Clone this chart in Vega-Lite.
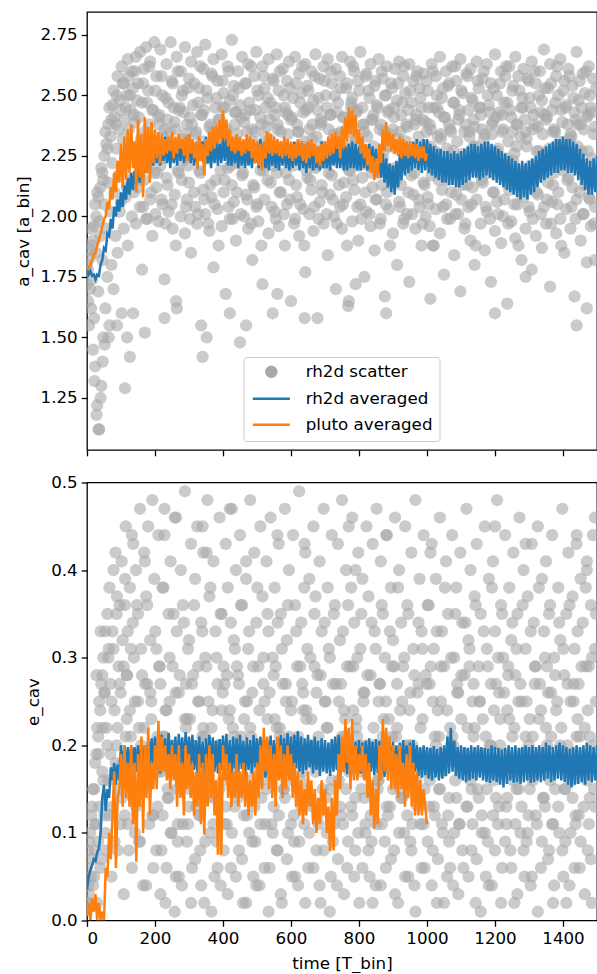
{
"$schema":"https://vega.github.io/schema/vega-lite/v6.json",
"autosize":{"type":"pad"},
"padding":{"left":14,"top":11,"right":0,"bottom":0},
"background":"white",
"bounds":"flush",
"spacing":32.5,
"config":{
 "font":"DejaVu Sans",
 "view":{"stroke":"black","strokeWidth":1.3},
 "axis":{"domain":false,"grid":false,"tickColor":"black","tickWidth":1.3,"tickSize":5.8,"labelFontSize":16.7,"labelColor":"black","labelPadding":4,"titleFontSize":16.7,"titleFontWeight":"normal","titleColor":"black","titlePadding":8,"labelFont":"DejaVu Sans","titleFont":"DejaVu Sans"}
},
"datasets":{
"sc":[
{"t":0,"a":1.80,"e":0.02},{"t":0,"a":1.72,"e":0.06},
{"t":6,"a":1.86,"e":0.09},{"t":6,"a":1.55,"e":0.03},
{"t":12,"a":1.95,"e":0.12},{"t":12,"a":1.62,"e":0.05},
{"t":18,"a":1.90,"e":0.04},{"t":18,"a":1.45,"e":0.15},
{"t":24,"a":2.05,"e":0.18},{"t":24,"a":1.38,"e":0.08},
{"t":30,"a":2.10,"e":0.22},{"t":30,"a":1.22,"e":0.02},
{"t":36,"a":1.98,"e":0.13},{"t":36,"a":1.12,"e":0.25},
{"t":42,"a":2.20,"e":0.27},{"t":42,"a":1.30,"e":0.07},
{"t":48,"a":2.15,"e":0.16},{"t":48,"a":1.50,"e":0.30},
{"t":54,"a":2.35,"e":0.33},{"t":54,"a":1.62,"e":0.10},
{"t":60,"a":2.28,"e":0.20},{"t":60,"a":1.75,"e":0.35},
{"t":66,"a":2.45,"e":0.38},{"t":66,"a":1.55,"e":0.12},
{"t":72,"a":2.40,"e":0.25},{"t":72,"a":1.80,"e":0.05},
{"t":78,"a":2.52,"e":0.31},{"t":78,"a":1.70,"e":0.40},
{"t":84,"a":2.38,"e":0.42},{"t":84,"a":1.92,"e":0.18},
{"t":90,"a":2.58,"e":0.22},{"t":90,"a":1.85,"e":0.08},
{"t":96,"a":2.48,"e":0.36},{"t":96,"a":2.02,"e":0.27},
{"t":102,"a":2.62,"e":0.41},{"t":102,"a":1.60,"e":0.14},
{"t":108,"a":2.55,"e":0.29},{"t":108,"a":1.95,"e":0.03},
{"t":114,"a":2.45,"e":0.45},{"t":114,"a":2.08,"e":0.21},
{"t":120,"a":2.65,"e":0.33},{"t":120,"a":1.88,"e":0.11},
{"t":126,"a":2.50,"e":0.38},{"t":126,"a":1.42,"e":0.24},
{"t":132,"a":2.60,"e":0.44},{"t":132,"a":2.00,"e":0.06},
{"t":138,"a":2.42,"e":0.30},{"t":138,"a":2.10,"e":0.19},
{"t":144,"a":2.66,"e":0.40},{"t":144,"a":1.97,"e":0.13},
{"t":150,"a":2.55,"e":0.35},{"t":150,"a":2.12,"e":0.25},
{"t":156,"a":2.68,"e":0.47},{"t":156,"a":2.04,"e":0.09},
{"t":162,"a":2.47,"e":0.28},{"t":162,"a":1.78,"e":0.16},
{"t":168,"a":2.61,"e":0.42},{"t":168,"a":2.15,"e":0.22},
{"t":174,"a":2.70,"e":0.37},{"t":174,"a":1.99,"e":0.04},
{"t":180,"a":2.52,"e":0.45},{"t":180,"a":2.20,"e":0.18},
{"t":186,"a":2.64,"e":0.32},{"t":186,"a":2.07,"e":0.26},
{"t":192,"a":2.44,"e":0.48},{"t":192,"a":1.92,"e":0.12},
{"t":198,"a":2.72,"e":0.39},{"t":198,"a":2.18,"e":0.20},
{"t":204,"a":2.58,"e":0.31},{"t":204,"a":2.12,"e":0.08},
{"t":210,"a":2.41,"e":0.44},{"t":210,"a":1.98,"e":0.17},
{"t":216,"a":2.69,"e":0.27},{"t":216,"a":2.21,"e":0.03},
{"t":222,"a":2.50,"e":0.38},{"t":222,"a":2.05,"e":0.12},
{"t":228,"a":2.36,"e":0.47},{"t":228,"a":1.74,"e":0.21},
{"t":234,"a":2.63,"e":0.24},{"t":234,"a":2.16,"e":0.06},
{"t":240,"a":2.47,"e":0.35},{"t":240,"a":2.02,"e":0.14},
{"t":246,"a":2.72,"e":0.41},{"t":246,"a":2.25,"e":0.10},
{"t":252,"a":2.55,"e":0.29},{"t":252,"a":1.95,"e":0.19},
{"t":258,"a":2.39,"e":0.46},{"t":258,"a":2.09,"e":0.01},
{"t":264,"a":2.66,"e":0.33},{"t":264,"a":1.62,"e":0.15},
{"t":270,"a":2.44,"e":0.26},{"t":270,"a":2.18,"e":0.05},
{"t":276,"a":2.60,"e":0.40},{"t":276,"a":2.00,"e":0.18},
{"t":282,"a":2.52,"e":0.36},{"t":282,"a":2.23,"e":0.11},
{"t":288,"a":2.70,"e":0.49},{"t":288,"a":1.93,"e":0.23},
{"t":294,"a":2.38,"e":0.23},{"t":294,"a":2.07,"e":0.09},
{"t":300,"a":2.57,"e":0.32},{"t":300,"a":2.14,"e":0.13},
{"t":306,"a":2.64,"e":0.43},{"t":306,"a":1.85,"e":0.02},
{"t":312,"a":2.46,"e":0.28},{"t":312,"a":2.26,"e":0.20},
{"t":318,"a":2.34,"e":0.39},{"t":318,"a":2.04,"e":0.07},
{"t":324,"a":2.68,"e":0.45},{"t":324,"a":1.97,"e":0.16},
{"t":330,"a":2.53,"e":0.25},{"t":330,"a":2.19,"e":0.12},
{"t":336,"a":2.42,"e":0.34},{"t":336,"a":1.55,"e":0.04},
{"t":342,"a":2.61,"e":0.42},{"t":342,"a":2.11,"e":0.22},
{"t":348,"a":2.71,"e":0.30},{"t":348,"a":2.01,"e":0.09},
{"t":354,"a":2.49,"e":0.48},{"t":354,"a":2.24,"e":0.14},
{"t":360,"a":2.37,"e":0.37},{"t":360,"a":1.94,"e":0.18},
{"t":366,"a":2.59,"e":0.22},{"t":366,"a":2.08,"e":0.01},
{"t":372,"a":2.65,"e":0.41},{"t":372,"a":1.79,"e":0.11},
{"t":378,"a":2.45,"e":0.33},{"t":378,"a":2.15,"e":0.19},
{"t":384,"a":2.56,"e":0.27},{"t":384,"a":2.03,"e":0.06},
{"t":390,"a":2.40,"e":0.46},{"t":390,"a":2.27,"e":0.15},
{"t":396,"a":2.67,"e":0.35},{"t":396,"a":1.96,"e":0.24},
{"t":402,"a":2.51,"e":0.29},{"t":402,"a":2.10,"e":0.08},
{"t":408,"a":2.35,"e":0.43},{"t":408,"a":1.68,"e":0.13},
{"t":414,"a":2.62,"e":0.38},{"t":414,"a":2.20,"e":0.03},
{"t":420,"a":2.48,"e":0.24},{"t":420,"a":1.99,"e":0.17},
{"t":426,"a":2.73,"e":0.47},{"t":426,"a":2.13,"e":0.10},
{"t":432,"a":2.54,"e":0.32},{"t":432,"a":2.06,"e":0.21},
{"t":438,"a":2.43,"e":0.40},{"t":438,"a":1.90,"e":0.05},
{"t":444,"a":2.60,"e":0.28},{"t":444,"a":2.22,"e":0.14},
{"t":450,"a":2.46,"e":0.44},{"t":450,"a":1.48,"e":0.19},
{"t":456,"a":2.66,"e":0.36},{"t":456,"a":2.17,"e":0.07},
{"t":462,"a":2.39,"e":0.23},{"t":462,"a":2.00,"e":0.12},
{"t":468,"a":2.55,"e":0.39},{"t":468,"a":2.09,"e":0.02},
{"t":474,"a":2.63,"e":0.31},{"t":474,"a":1.95,"e":0.16},
{"t":480,"a":2.44,"e":0.48},{"t":480,"a":2.25,"e":0.22},
{"t":486,"a":2.36,"e":0.26},{"t":486,"a":1.82,"e":0.09},
{"t":492,"a":2.58,"e":0.42},{"t":492,"a":2.12,"e":0.13},
{"t":498,"a":2.68,"e":0.34},{"t":498,"a":2.04,"e":0.04},
{"t":504,"a":2.50,"e":0.29},{"t":504,"a":1.98,"e":0.18},
{"t":510,"a":2.41,"e":0.45},{"t":510,"a":2.19,"e":0.11},
{"t":516,"a":2.62,"e":0.37},{"t":516,"a":1.72,"e":0.20},
{"t":522,"a":2.53,"e":0.25},{"t":522,"a":2.07,"e":0.06},
{"t":528,"a":2.37,"e":0.41},{"t":528,"a":2.23,"e":0.15},
{"t":534,"a":2.65,"e":0.33},{"t":534,"a":1.93,"e":0.01},
{"t":540,"a":2.47,"e":0.46},{"t":540,"a":2.14,"e":0.17},
{"t":546,"a":2.57,"e":0.30},{"t":546,"a":1.60,"e":0.10},
{"t":552,"a":2.42,"e":0.38},{"t":552,"a":2.02,"e":0.23},
{"t":558,"a":2.67,"e":0.22},{"t":558,"a":2.18,"e":0.08},
{"t":564,"a":2.52,"e":0.43},{"t":564,"a":1.96,"e":0.12},
{"t":570,"a":2.35,"e":0.35},{"t":570,"a":2.10,"e":0.03},
{"t":576,"a":2.61,"e":0.27},{"t":576,"a":2.26,"e":0.19},
{"t":582,"a":2.45,"e":0.47},{"t":582,"a":1.88,"e":0.14},
{"t":588,"a":2.56,"e":0.32},{"t":588,"a":2.05,"e":0.07},
{"t":594,"a":2.64,"e":0.40},{"t":594,"a":2.15,"e":0.21},
{"t":600,"a":2.40,"e":0.24},{"t":600,"a":1.65,"e":0.11},
{"t":606,"a":2.49,"e":0.44},{"t":606,"a":2.21,"e":0.16},
{"t":612,"a":2.66,"e":0.36},{"t":612,"a":1.99,"e":0.05},
{"t":618,"a":2.38,"e":0.29},{"t":618,"a":2.08,"e":0.18},
{"t":624,"a":2.59,"e":0.49},{"t":624,"a":1.92,"e":0.09},
{"t":630,"a":2.51,"e":0.34},{"t":630,"a":2.24,"e":0.13},
{"t":636,"a":2.43,"e":0.26},{"t":636,"a":2.03,"e":0.24},
{"t":642,"a":2.63,"e":0.42},{"t":642,"a":1.77,"e":0.02},
{"t":648,"a":2.54,"e":0.31},{"t":648,"a":2.16,"e":0.15},
{"t":654,"a":2.36,"e":0.39},{"t":654,"a":2.01,"e":0.10},
{"t":660,"a":2.60,"e":0.23},{"t":660,"a":2.11,"e":0.20},
{"t":666,"a":2.48,"e":0.45},{"t":666,"a":1.94,"e":0.06},
{"t":672,"a":2.67,"e":0.37},{"t":672,"a":2.20,"e":0.17},
{"t":678,"a":2.44,"e":0.28},{"t":678,"a":1.58,"e":0.12},
{"t":684,"a":2.57,"e":0.41},{"t":684,"a":2.06,"e":0.04},
{"t":690,"a":2.39,"e":0.33},{"t":690,"a":2.13,"e":0.19},
{"t":696,"a":2.62,"e":0.47},{"t":696,"a":1.97,"e":0.08},
{"t":702,"a":2.50,"e":0.25},{"t":702,"a":2.22,"e":0.14},
{"t":708,"a":2.65,"e":0.38},{"t":708,"a":1.84,"e":0.22},
{"t":714,"a":2.42,"e":0.30},{"t":714,"a":2.09,"e":0.01},
{"t":720,"a":2.55,"e":0.44},{"t":720,"a":2.17,"e":0.16},
{"t":726,"a":2.34,"e":0.35},{"t":726,"a":2.00,"e":0.11},
{"t":732,"a":2.61,"e":0.27},{"t":732,"a":1.70,"e":0.18},
{"t":738,"a":2.47,"e":0.43},{"t":738,"a":2.25,"e":0.07},
{"t":744,"a":2.58,"e":0.32},{"t":744,"a":2.04,"e":0.13},
{"t":750,"a":2.66,"e":0.48},{"t":750,"a":1.95,"e":0.21},
{"t":756,"a":2.41,"e":0.24},{"t":756,"a":2.14,"e":0.03},
{"t":762,"a":2.53,"e":0.40},{"t":762,"a":2.08,"e":0.15},
{"t":768,"a":2.37,"e":0.36},{"t":768,"a":1.63,"e":0.09},
{"t":774,"a":2.64,"e":0.29},{"t":774,"a":2.19,"e":0.19},
{"t":780,"a":2.49,"e":0.46},{"t":780,"a":1.98,"e":0.12},
{"t":786,"a":2.60,"e":0.34},{"t":786,"a":2.11,"e":0.05},
{"t":792,"a":2.43,"e":0.22},{"t":792,"a":2.23,"e":0.23},
{"t":798,"a":2.56,"e":0.42},{"t":798,"a":1.90,"e":0.10},
{"t":804,"a":2.68,"e":0.31},{"t":804,"a":2.05,"e":0.17},
{"t":810,"a":2.45,"e":0.39},{"t":810,"a":2.16,"e":0.06},
{"t":816,"a":2.35,"e":0.26},{"t":816,"a":1.75,"e":0.14},
{"t":822,"a":2.59,"e":0.45},{"t":822,"a":2.02,"e":0.20},
{"t":828,"a":2.52,"e":0.37},{"t":828,"a":2.21,"e":0.08},
{"t":834,"a":2.63,"e":0.28},{"t":834,"a":1.96,"e":0.12},
{"t":840,"a":2.40,"e":0.43},{"t":840,"a":2.12,"e":0.02},
{"t":846,"a":2.54,"e":0.33},{"t":846,"a":1.86,"e":0.18},
{"t":852,"a":2.46,"e":0.47},{"t":852,"a":2.07,"e":0.11},
{"t":858,"a":2.65,"e":0.25},{"t":858,"a":2.18,"e":0.16},
{"t":864,"a":2.38,"e":0.41},{"t":864,"a":1.99,"e":0.04},
{"t":870,"a":2.57,"e":0.35},{"t":870,"a":2.24,"e":0.21},
{"t":876,"a":2.50,"e":0.30},{"t":876,"a":1.67,"e":0.09},
{"t":882,"a":2.62,"e":0.44},{"t":882,"a":2.10,"e":0.13},
{"t":888,"a":2.44,"e":0.23},{"t":888,"a":2.03,"e":0.19},
{"t":894,"a":2.55,"e":0.38},{"t":894,"a":2.15,"e":0.07},
{"t":900,"a":2.36,"e":0.32},{"t":900,"a":1.93,"e":0.15},
{"t":906,"a":2.61,"e":0.46},{"t":906,"a":2.20,"e":0.03},
{"t":912,"a":2.48,"e":0.27},{"t":912,"a":1.80,"e":0.22},
{"t":918,"a":2.64,"e":0.40},{"t":918,"a":2.06,"e":0.10},
{"t":924,"a":2.42,"e":0.34},{"t":924,"a":2.13,"e":0.14},
{"t":930,"a":2.58,"e":0.29},{"t":930,"a":1.97,"e":0.18},
{"t":936,"a":2.51,"e":0.45},{"t":936,"a":2.22,"e":0.05},
{"t":942,"a":2.37,"e":0.36},{"t":942,"a":2.01,"e":0.12},
{"t":948,"a":2.63,"e":0.24},{"t":948,"a":1.73,"e":0.20},
{"t":954,"a":2.47,"e":0.42},{"t":954,"a":2.17,"e":0.08},
{"t":960,"a":2.56,"e":0.31},{"t":960,"a":2.09,"e":0.16},
{"t":966,"a":2.40,"e":0.48},{"t":966,"a":1.95,"e":0.01},
{"t":972,"a":2.60,"e":0.26},{"t":972,"a":2.25,"e":0.13},
{"t":978,"a":2.53,"e":0.39},{"t":978,"a":2.04,"e":0.19},
{"t":984,"a":2.45,"e":0.33},{"t":984,"a":1.88,"e":0.06},
{"t":990,"a":2.59,"e":0.44},{"t":990,"a":2.14,"e":0.11},
{"t":996,"a":2.39,"e":0.28},{"t":996,"a":2.00,"e":0.17},
{"t":1002,"a":2.52,"e":0.36},{"t":1002,"a":2.08,"e":0.09},
{"t":1008,"a":2.38,"e":0.27},{"t":1008,"a":1.96,"e":0.16},
{"t":1014,"a":2.63,"e":0.43},{"t":1014,"a":2.17,"e":0.04},
{"t":1020,"a":2.45,"e":0.31},{"t":1020,"a":1.88,"e":0.13},
{"t":1026,"a":2.58,"e":0.39},{"t":1026,"a":2.03,"e":0.20},
{"t":1032,"a":2.33,"e":0.24},{"t":1032,"a":2.21,"e":0.07},
{"t":1038,"a":2.66,"e":0.46},{"t":1038,"a":1.93,"e":0.15},
{"t":1044,"a":2.49,"e":0.33},{"t":1044,"a":2.11,"e":0.11},
{"t":1050,"a":2.41,"e":0.29},{"t":1050,"a":1.76,"e":0.02},
{"t":1056,"a":2.60,"e":0.41},{"t":1056,"a":2.05,"e":0.18},
{"t":1062,"a":2.54,"e":0.35},{"t":1062,"a":2.15,"e":0.12},
{"t":1068,"a":2.36,"e":0.22},{"t":1068,"a":1.99,"e":0.06},
{"t":1074,"a":2.62,"e":0.44},{"t":1074,"a":2.24,"e":0.21},
{"t":1080,"a":2.47,"e":0.30},{"t":1080,"a":1.84,"e":0.10},
{"t":1086,"a":2.56,"e":0.38},{"t":1086,"a":2.09,"e":0.14},
{"t":1092,"a":2.40,"e":0.26},{"t":1092,"a":2.01,"e":0.03},
{"t":1098,"a":2.65,"e":0.42},{"t":1098,"a":1.69,"e":0.17},
{"t":1104,"a":2.51,"e":0.34},{"t":1104,"a":2.13,"e":0.08},
{"t":1110,"a":2.35,"e":0.28},{"t":1110,"a":1.95,"e":0.19},
{"t":1116,"a":2.59,"e":0.47},{"t":1116,"a":2.19,"e":0.13},
{"t":1122,"a":2.44,"e":0.32},{"t":1122,"a":2.04,"e":0.05},
{"t":1128,"a":2.61,"e":0.40},{"t":1128,"a":1.90,"e":0.16},
{"t":1134,"a":2.48,"e":0.25},{"t":1134,"a":2.12,"e":0.11},
{"t":1140,"a":2.37,"e":0.37},{"t":1140,"a":1.80,"e":0.22},
{"t":1146,"a":2.64,"e":0.43},{"t":1146,"a":2.07,"e":0.07},
{"t":1152,"a":2.53,"e":0.29},{"t":1152,"a":2.22,"e":0.14},
{"t":1158,"a":2.42,"e":0.35},{"t":1158,"a":1.97,"e":0.01},
{"t":1164,"a":2.57,"e":0.23},{"t":1164,"a":2.14,"e":0.18},
{"t":1170,"a":2.34,"e":0.45},{"t":1170,"a":1.86,"e":0.10},
{"t":1176,"a":2.63,"e":0.31},{"t":1176,"a":2.02,"e":0.15},
{"t":1182,"a":2.46,"e":0.39},{"t":1182,"a":2.18,"e":0.04},
{"t":1188,"a":2.55,"e":0.27},{"t":1188,"a":1.73,"e":0.20},
{"t":1194,"a":2.39,"e":0.41},{"t":1194,"a":2.10,"e":0.12},
{"t":1200,"a":2.67,"e":0.33},{"t":1200,"a":1.94,"e":0.08},
{"t":1206,"a":2.50,"e":0.48},{"t":1206,"a":2.06,"e":0.17},
{"t":1212,"a":2.43,"e":0.26},{"t":1212,"a":2.20,"e":0.13},
{"t":1218,"a":2.60,"e":0.36},{"t":1218,"a":1.89,"e":0.02},
{"t":1224,"a":2.36,"e":0.30},{"t":1224,"a":2.00,"e":0.19},
{"t":1230,"a":2.58,"e":0.44},{"t":1230,"a":2.16,"e":0.09},
{"t":1236,"a":2.47,"e":0.24},{"t":1236,"a":1.64,"e":0.14},
{"t":1242,"a":2.62,"e":0.38},{"t":1242,"a":2.11,"e":0.23},
{"t":1248,"a":2.41,"e":0.32},{"t":1248,"a":1.98,"e":0.06},
{"t":1254,"a":2.54,"e":0.42},{"t":1254,"a":2.23,"e":0.16},
{"t":1260,"a":2.66,"e":0.28},{"t":1260,"a":1.91,"e":0.11},
{"t":1266,"a":2.38,"e":0.35},{"t":1266,"a":2.05,"e":0.03},
{"t":1272,"a":2.52,"e":0.46},{"t":1272,"a":2.13,"e":0.18},
{"t":1278,"a":2.45,"e":0.25},{"t":1278,"a":1.82,"e":0.13},
{"t":1284,"a":2.61,"e":0.40},{"t":1284,"a":2.08,"e":0.08},
{"t":1290,"a":2.35,"e":0.31},{"t":1290,"a":1.95,"e":0.21},
{"t":1296,"a":2.57,"e":0.37},{"t":1296,"a":2.19,"e":0.10},
{"t":1302,"a":2.49,"e":0.23},{"t":1302,"a":2.02,"e":0.15},
{"t":1308,"a":2.64,"e":0.43},{"t":1308,"a":1.78,"e":0.05},
{"t":1314,"a":2.42,"e":0.34},{"t":1314,"a":2.15,"e":0.17},
{"t":1320,"a":2.55,"e":0.29},{"t":1320,"a":1.92,"e":0.12},
{"t":1326,"a":2.37,"e":0.45},{"t":1326,"a":2.09,"e":0.01},
{"t":1332,"a":2.60,"e":0.27},{"t":1332,"a":2.21,"e":0.19},
{"t":1338,"a":2.48,"e":0.39},{"t":1338,"a":1.87,"e":0.09},
{"t":1344,"a":2.69,"e":0.33},{"t":1344,"a":2.04,"e":0.14},
{"t":1350,"a":2.40,"e":0.41},{"t":1350,"a":1.97,"e":0.22},
{"t":1356,"a":2.53,"e":0.26},{"t":1356,"a":2.14,"e":0.07},
{"t":1362,"a":2.63,"e":0.36},{"t":1362,"a":1.71,"e":0.16},
{"t":1368,"a":2.44,"e":0.44},{"t":1368,"a":2.06,"e":0.11},
{"t":1374,"a":2.36,"e":0.30},{"t":1374,"a":2.18,"e":0.04},
{"t":1380,"a":2.58,"e":0.24},{"t":1380,"a":1.93,"e":0.18},
{"t":1386,"a":2.50,"e":0.38},{"t":1386,"a":2.10,"e":0.13},
{"t":1392,"a":2.65,"e":0.32},{"t":1392,"a":1.99,"e":0.20},
{"t":1398,"a":2.39,"e":0.47},{"t":1398,"a":2.22,"e":0.08},
{"t":1404,"a":2.56,"e":0.28},{"t":1404,"a":1.85,"e":0.15},
{"t":1410,"a":2.46,"e":0.35},{"t":1410,"a":2.03,"e":0.02},
{"t":1416,"a":2.61,"e":0.42},{"t":1416,"a":2.16,"e":0.17},
{"t":1422,"a":2.34,"e":0.25},{"t":1422,"a":1.95,"e":0.10},
{"t":1428,"a":2.54,"e":0.37},{"t":1428,"a":2.12,"e":0.14},
{"t":1434,"a":2.43,"e":0.31},{"t":1434,"a":1.67,"e":0.06},
{"t":1440,"a":2.68,"e":0.43},{"t":1440,"a":2.07,"e":0.21},
{"t":1446,"a":2.48,"e":0.27},{"t":1446,"a":2.20,"e":0.12},
{"t":1452,"a":2.38,"e":0.39},{"t":1452,"a":1.90,"e":0.09},
{"t":1458,"a":2.59,"e":0.34},{"t":1458,"a":2.01,"e":0.19},
{"t":1464,"a":2.51,"e":0.22},{"t":1464,"a":2.13,"e":0.03},
{"t":1470,"a":2.41,"e":0.40},{"t":1470,"a":1.81,"e":0.16},
{"t":1476,"a":2.62,"e":0.29},{"t":1476,"a":2.08,"e":0.11},
{"t":1482,"a":2.45,"e":0.36},{"t":1482,"a":1.96,"e":0.07},
{"t":1488,"a":2.57,"e":0.44},{"t":1488,"a":2.17,"e":0.18},
{"t":1494,"a":2.37,"e":0.31},{"t":1494,"a":2.04,"e":0.13},
{"t":28,"a":1.18,"e":0.28},{"t":34,"a":1.12,"e":0.19},{"t":40,"a":1.25,"e":0.33},{"t":22,"a":1.32,"e":0.11},
{"t":46,"a":1.40,"e":0.22},{"t":52,"a":1.47,"e":0.26},{"t":64,"a":1.50,"e":0.31},{"t":88,"a":1.55,"e":0.37},
{"t":112,"a":1.29,"e":0.39},{"t":118,"a":1.50,"e":0.28},{"t":136,"a":1.60,"e":0.43},{"t":170,"a":1.52,"e":0.41},
{"t":228,"a":1.58,"e":0.44},{"t":262,"a":1.65,"e":0.46},{"t":340,"a":1.42,"e":0.45},{"t":352,"a":1.50,"e":0.42},
{"t":420,"a":1.60,"e":0.47},{"t":468,"a":1.55,"e":0.41},{"t":560,"a":1.68,"e":0.44},{"t":640,"a":1.58,"e":0.43},
{"t":770,"a":1.65,"e":0.45},{"t":790,"a":1.72,"e":0.40},{"t":880,"a":1.60,"e":0.44},{"t":1010,"a":1.66,"e":0.42},
{"t":1200,"a":1.60,"e":0.45},{"t":1290,"a":1.75,"e":0.43},{"t":1440,"a":1.55,"e":0.44},{"t":1470,"a":1.62,"e":0.41},
{"t":1494,"a":1.82,"e":0.46},
{"t":3,"a":1.78,"e":0.04},{"t":3,"a":1.65,"e":0.08},{"t":9,"a":1.83,"e":0.10},{"t":9,"a":1.70,"e":0.02},
{"t":15,"a":1.74,"e":0.07},{"t":15,"a":1.88,"e":0.13},{"t":21,"a":1.96,"e":0.15},{"t":21,"a":1.58,"e":0.05},
{"t":27,"a":1.85,"e":0.11},{"t":27,"a":2.00,"e":0.19},{"t":33,"a":2.08,"e":0.21},{"t":33,"a":1.69,"e":0.09},
{"t":39,"a":1.92,"e":0.06},{"t":39,"a":2.12,"e":0.24},{"t":45,"a":2.18,"e":0.17},{"t":45,"a":1.82,"e":0.28},
{"t":51,"a":2.05,"e":0.26},{"t":51,"a":2.25,"e":0.12},{"t":57,"a":2.30,"e":0.08},{"t":57,"a":1.95,"e":0.22},
{"t":63,"a":2.14,"e":0.30},{"t":63,"a":2.38,"e":0.16},{"t":69,"a":2.33,"e":0.19},{"t":69,"a":2.02,"e":0.27},
{"t":75,"a":2.22,"e":0.13},{"t":75,"a":2.46,"e":0.33},{"t":81,"a":2.41,"e":0.24},{"t":81,"a":2.10,"e":0.09},
{"t":87,"a":2.28,"e":0.35},{"t":87,"a":2.50,"e":0.20},{"t":93,"a":2.17,"e":0.15},{"t":93,"a":2.36,"e":0.29},
{"t":99,"a":2.44,"e":0.26},{"t":99,"a":2.06,"e":0.11},{"t":105,"a":2.32,"e":0.32},{"t":105,"a":2.55,"e":0.18},
{"t":111,"a":2.21,"e":0.12},{"t":111,"a":2.40,"e":0.36},{"t":117,"a":2.50,"e":0.23},{"t":117,"a":2.12,"e":0.28},
{"t":123,"a":2.36,"e":0.17},{"t":123,"a":2.58,"e":0.08},{"t":129,"a":2.25,"e":0.31},{"t":129,"a":2.44,"e":0.21},
{"t":135,"a":2.53,"e":0.14},{"t":135,"a":2.16,"e":0.34},{"t":141,"a":2.39,"e":0.25},{"t":141,"a":2.60,"e":0.10},
{"t":147,"a":2.29,"e":0.36},{"t":147,"a":2.48,"e":0.19},
{"t":153,"a":2.41,"e":0.22},{"t":153,"a":2.15,"e":0.09},{"t":159,"a":2.28,"e":0.31},{"t":159,"a":2.32,"e":0.20},
{"t":165,"a":2.55,"e":0.15},{"t":165,"a":2.04,"e":0.04},{"t":171,"a":2.35,"e":0.27},{"t":171,"a":2.21,"e":0.16},
{"t":177,"a":2.47,"e":0.36},{"t":177,"a":1.99,"e":0.27},{"t":183,"a":2.62,"e":0.19},{"t":183,"a":2.38,"e":0.11},
{"t":189,"a":2.31,"e":0.25},{"t":189,"a":2.10,"e":0.23},{"t":195,"a":2.44,"e":0.12},{"t":195,"a":2.27,"e":0.06},
{"t":201,"a":2.52,"e":0.33},{"t":201,"a":2.01,"e":0.18},{"t":207,"a":2.26,"e":0.21},{"t":207,"a":2.18,"e":0.13},
{"t":213,"a":2.38,"e":0.29},{"t":213,"a":2.42,"e":0.29},{"t":219,"a":2.58,"e":0.17},{"t":219,"a":2.07,"e":0.08},
{"t":225,"a":2.33,"e":0.38},{"t":225,"a":2.24,"e":0.21},{"t":231,"a":2.49,"e":0.24},{"t":231,"a":1.97,"e":0.02},
{"t":237,"a":2.40,"e":0.14},{"t":237,"a":2.13,"e":0.15},{"t":243,"a":2.29,"e":0.30},{"t":243,"a":2.35,"e":0.25},
{"t":249,"a":2.56,"e":0.20},{"t":249,"a":2.05,"e":0.10},{"t":255,"a":2.45,"e":0.35},{"t":255,"a":2.29,"e":0.19},
{"t":261,"a":2.36,"e":0.26},{"t":261,"a":1.88,"e":0.05},{"t":267,"a":2.60,"e":0.11},{"t":267,"a":2.19,"e":0.09},
{"t":273,"a":2.27,"e":0.28},{"t":273,"a":2.45,"e":0.20},{"t":279,"a":2.50,"e":0.18},{"t":279,"a":2.15,"e":0.04},
{"t":285,"a":2.43,"e":0.34},{"t":285,"a":2.32,"e":0.16},{"t":291,"a":2.34,"e":0.22},{"t":291,"a":2.04,"e":0.27},
{"t":297,"a":2.53,"e":0.31},{"t":297,"a":2.21,"e":0.11},{"t":303,"a":2.41,"e":0.15},{"t":303,"a":1.99,"e":0.23},
{"t":309,"a":2.28,"e":0.27},{"t":309,"a":2.38,"e":0.06},{"t":315,"a":2.55,"e":0.36},{"t":315,"a":2.10,"e":0.18},
{"t":321,"a":2.35,"e":0.19},{"t":321,"a":2.27,"e":0.13},{"t":327,"a":2.47,"e":0.25},{"t":327,"a":2.01,"e":0.29},
{"t":333,"a":2.62,"e":0.12},{"t":333,"a":2.18,"e":0.08},{"t":339,"a":2.31,"e":0.33},{"t":339,"a":2.42,"e":0.21},
{"t":345,"a":2.44,"e":0.21},{"t":345,"a":2.07,"e":0.02},{"t":351,"a":2.52,"e":0.29},{"t":351,"a":2.24,"e":0.15},
{"t":357,"a":2.26,"e":0.17},{"t":357,"a":1.97,"e":0.25},{"t":363,"a":2.38,"e":0.38},{"t":363,"a":2.13,"e":0.10},
{"t":369,"a":2.58,"e":0.24},{"t":369,"a":2.35,"e":0.19},{"t":375,"a":2.33,"e":0.14},{"t":375,"a":2.05,"e":0.05},
{"t":381,"a":2.49,"e":0.30},{"t":381,"a":2.29,"e":0.09},{"t":387,"a":2.40,"e":0.20},{"t":387,"a":1.88,"e":0.20},
{"t":393,"a":2.29,"e":0.35},{"t":393,"a":2.19,"e":0.04},{"t":399,"a":2.56,"e":0.26},{"t":399,"a":2.45,"e":0.16},
{"t":405,"a":2.45,"e":0.11},{"t":405,"a":2.15,"e":0.27},{"t":411,"a":2.36,"e":0.28},{"t":411,"a":2.32,"e":0.11},
{"t":417,"a":2.60,"e":0.18},{"t":417,"a":2.04,"e":0.23},{"t":423,"a":2.27,"e":0.34},{"t":423,"a":2.21,"e":0.06},
{"t":429,"a":2.50,"e":0.22},{"t":429,"a":1.99,"e":0.18},{"t":435,"a":2.43,"e":0.31},{"t":435,"a":2.38,"e":0.13},
{"t":441,"a":2.34,"e":0.15},{"t":441,"a":2.10,"e":0.29},{"t":447,"a":2.53,"e":0.27},{"t":447,"a":2.27,"e":0.08},
{"t":453,"a":2.41,"e":0.36},{"t":453,"a":2.01,"e":0.21},{"t":459,"a":2.28,"e":0.19},{"t":459,"a":2.18,"e":0.02},
{"t":465,"a":2.55,"e":0.25},{"t":465,"a":2.42,"e":0.15},{"t":471,"a":2.35,"e":0.12},{"t":471,"a":2.07,"e":0.25},
{"t":477,"a":2.47,"e":0.33},{"t":477,"a":2.24,"e":0.10},{"t":483,"a":2.62,"e":0.21},{"t":483,"a":1.97,"e":0.19},
{"t":489,"a":2.31,"e":0.29},{"t":489,"a":2.13,"e":0.05},{"t":495,"a":2.44,"e":0.17},{"t":495,"a":2.35,"e":0.09},
{"t":501,"a":2.52,"e":0.38},{"t":501,"a":2.05,"e":0.20},{"t":507,"a":2.26,"e":0.24},{"t":507,"a":2.29,"e":0.04},
{"t":513,"a":2.38,"e":0.14},{"t":513,"a":1.88,"e":0.16},{"t":519,"a":2.58,"e":0.30},{"t":519,"a":2.19,"e":0.27},
{"t":525,"a":2.33,"e":0.20},{"t":525,"a":2.45,"e":0.11},{"t":531,"a":2.49,"e":0.35},{"t":531,"a":2.15,"e":0.23},
{"t":537,"a":2.40,"e":0.26},{"t":537,"a":2.32,"e":0.06},{"t":543,"a":2.29,"e":0.11},{"t":543,"a":2.04,"e":0.18},
{"t":549,"a":2.56,"e":0.28},{"t":549,"a":2.21,"e":0.13},{"t":555,"a":2.45,"e":0.18},{"t":555,"a":1.99,"e":0.29},
{"t":561,"a":2.36,"e":0.34},{"t":561,"a":2.38,"e":0.08},{"t":567,"a":2.60,"e":0.22},{"t":567,"a":2.10,"e":0.21},
{"t":573,"a":2.27,"e":0.31},{"t":573,"a":2.27,"e":0.02},{"t":579,"a":2.50,"e":0.15},{"t":579,"a":2.01,"e":0.15},
{"t":585,"a":2.43,"e":0.27},{"t":585,"a":2.18,"e":0.25},{"t":591,"a":2.34,"e":0.36},{"t":591,"a":2.42,"e":0.10},
{"t":597,"a":2.53,"e":0.19},{"t":597,"a":2.07,"e":0.19},{"t":603,"a":2.41,"e":0.25},{"t":603,"a":2.24,"e":0.05},
{"t":609,"a":2.28,"e":0.12},{"t":609,"a":1.97,"e":0.09},{"t":615,"a":2.55,"e":0.33},{"t":615,"a":2.13,"e":0.20},
{"t":621,"a":2.35,"e":0.21},{"t":621,"a":2.35,"e":0.04},{"t":627,"a":2.47,"e":0.29},{"t":627,"a":2.05,"e":0.16},
{"t":633,"a":2.62,"e":0.17},{"t":633,"a":2.29,"e":0.27},{"t":639,"a":2.31,"e":0.38},{"t":639,"a":1.88,"e":0.11},
{"t":645,"a":2.44,"e":0.24},{"t":645,"a":2.19,"e":0.23},{"t":651,"a":2.52,"e":0.14},{"t":651,"a":2.45,"e":0.06},
{"t":657,"a":2.26,"e":0.30},{"t":657,"a":2.15,"e":0.18},{"t":663,"a":2.38,"e":0.20},{"t":663,"a":2.32,"e":0.13},
{"t":669,"a":2.58,"e":0.35},{"t":669,"a":2.04,"e":0.29},{"t":675,"a":2.33,"e":0.26},{"t":675,"a":2.21,"e":0.08},
{"t":681,"a":2.49,"e":0.11},{"t":681,"a":1.99,"e":0.21},{"t":687,"a":2.40,"e":0.28},{"t":687,"a":2.38,"e":0.02},
{"t":693,"a":2.29,"e":0.18},{"t":693,"a":2.10,"e":0.15},{"t":699,"a":2.56,"e":0.34},{"t":699,"a":2.27,"e":0.25},
{"t":705,"a":2.45,"e":0.22},{"t":705,"a":2.01,"e":0.10},{"t":711,"a":2.36,"e":0.31},{"t":711,"a":2.18,"e":0.19},
{"t":717,"a":2.60,"e":0.15},{"t":717,"a":2.42,"e":0.05},{"t":723,"a":2.27,"e":0.27},{"t":723,"a":2.07,"e":0.09},
{"t":729,"a":2.50,"e":0.36},{"t":729,"a":2.24,"e":0.20},{"t":735,"a":2.43,"e":0.19},{"t":735,"a":1.97,"e":0.04},
{"t":741,"a":2.34,"e":0.25},{"t":741,"a":2.13,"e":0.16},{"t":747,"a":2.53,"e":0.12},{"t":747,"a":2.35,"e":0.27},
{"t":753,"a":2.41,"e":0.33},{"t":753,"a":2.05,"e":0.11},{"t":759,"a":2.28,"e":0.21},{"t":759,"a":2.29,"e":0.23},
{"t":765,"a":2.55,"e":0.29},{"t":765,"a":1.88,"e":0.06},{"t":771,"a":2.35,"e":0.17},{"t":771,"a":2.19,"e":0.18},
{"t":777,"a":2.47,"e":0.38},{"t":777,"a":2.45,"e":0.13},{"t":783,"a":2.62,"e":0.24},{"t":783,"a":2.15,"e":0.29},
{"t":789,"a":2.31,"e":0.14},{"t":789,"a":2.32,"e":0.08},{"t":795,"a":2.44,"e":0.30},{"t":795,"a":2.04,"e":0.21},
{"t":801,"a":2.52,"e":0.20},{"t":801,"a":2.21,"e":0.02},{"t":807,"a":2.26,"e":0.35},{"t":807,"a":1.99,"e":0.15},
{"t":813,"a":2.38,"e":0.26},{"t":813,"a":2.38,"e":0.25},{"t":819,"a":2.58,"e":0.11},{"t":819,"a":2.10,"e":0.10},
{"t":825,"a":2.33,"e":0.28},{"t":825,"a":2.27,"e":0.19},{"t":831,"a":2.49,"e":0.18},{"t":831,"a":2.01,"e":0.05},
{"t":837,"a":2.40,"e":0.34},{"t":837,"a":2.18,"e":0.09},{"t":843,"a":2.29,"e":0.22},{"t":843,"a":2.42,"e":0.20},
{"t":849,"a":2.56,"e":0.31},{"t":849,"a":2.07,"e":0.04},{"t":855,"a":2.45,"e":0.15},{"t":855,"a":2.24,"e":0.16},
{"t":861,"a":2.36,"e":0.27},{"t":861,"a":1.97,"e":0.27},{"t":867,"a":2.60,"e":0.36},{"t":867,"a":2.13,"e":0.11},
{"t":873,"a":2.27,"e":0.19},{"t":873,"a":2.35,"e":0.23},{"t":879,"a":2.50,"e":0.25},{"t":879,"a":2.05,"e":0.06},
{"t":885,"a":2.43,"e":0.12},{"t":885,"a":2.29,"e":0.18},{"t":891,"a":2.34,"e":0.33},{"t":891,"a":1.88,"e":0.13},
{"t":897,"a":2.53,"e":0.21},{"t":897,"a":2.19,"e":0.29},{"t":903,"a":2.41,"e":0.29},{"t":903,"a":2.45,"e":0.08},
{"t":909,"a":2.28,"e":0.17},{"t":909,"a":2.15,"e":0.21},{"t":915,"a":2.55,"e":0.38},{"t":915,"a":2.32,"e":0.02},
{"t":921,"a":2.35,"e":0.24},{"t":921,"a":2.04,"e":0.15},{"t":927,"a":2.47,"e":0.14},{"t":927,"a":2.21,"e":0.25},
{"t":933,"a":2.62,"e":0.30},{"t":933,"a":1.99,"e":0.10},{"t":939,"a":2.31,"e":0.20},{"t":939,"a":2.38,"e":0.19},
{"t":945,"a":2.44,"e":0.35},{"t":945,"a":2.10,"e":0.05},{"t":951,"a":2.52,"e":0.26},{"t":951,"a":2.27,"e":0.09},
{"t":957,"a":2.26,"e":0.11},{"t":957,"a":2.01,"e":0.20},{"t":963,"a":2.38,"e":0.28},{"t":963,"a":2.18,"e":0.04},
{"t":969,"a":2.58,"e":0.18},{"t":969,"a":2.42,"e":0.16},{"t":975,"a":2.33,"e":0.34},{"t":975,"a":2.07,"e":0.27},
{"t":981,"a":2.49,"e":0.22},{"t":981,"a":2.24,"e":0.11},{"t":987,"a":2.40,"e":0.31},{"t":987,"a":1.97,"e":0.23},
{"t":993,"a":2.29,"e":0.15},{"t":993,"a":2.13,"e":0.06},{"t":999,"a":2.56,"e":0.27},{"t":999,"a":2.35,"e":0.18},
{"t":1005,"a":2.45,"e":0.36},{"t":1005,"a":2.05,"e":0.13},{"t":1011,"a":2.36,"e":0.19},{"t":1011,"a":2.29,"e":0.29},
{"t":1017,"a":2.60,"e":0.25},{"t":1017,"a":1.88,"e":0.08},{"t":1023,"a":2.27,"e":0.12},{"t":1023,"a":2.19,"e":0.21},
{"t":1029,"a":2.50,"e":0.33},{"t":1029,"a":2.45,"e":0.02},{"t":1035,"a":2.43,"e":0.21},{"t":1035,"a":2.15,"e":0.15},
{"t":1041,"a":2.34,"e":0.29},{"t":1041,"a":2.32,"e":0.25},{"t":1047,"a":2.53,"e":0.17},{"t":1047,"a":2.04,"e":0.10},
{"t":1053,"a":2.41,"e":0.38},{"t":1053,"a":2.21,"e":0.19},{"t":1059,"a":2.28,"e":0.24},{"t":1059,"a":1.99,"e":0.05},
{"t":1065,"a":2.55,"e":0.14},{"t":1065,"a":2.38,"e":0.09},{"t":1071,"a":2.35,"e":0.30},{"t":1071,"a":2.10,"e":0.20},
{"t":1077,"a":2.47,"e":0.20},{"t":1077,"a":2.27,"e":0.04},{"t":1083,"a":2.62,"e":0.35},{"t":1083,"a":2.01,"e":0.16},
{"t":1089,"a":2.31,"e":0.26},{"t":1089,"a":2.18,"e":0.27},{"t":1095,"a":2.44,"e":0.11},{"t":1095,"a":2.42,"e":0.11},
{"t":1101,"a":2.52,"e":0.28},{"t":1101,"a":2.07,"e":0.23},{"t":1107,"a":2.26,"e":0.18},{"t":1107,"a":2.24,"e":0.06},
{"t":1113,"a":2.38,"e":0.34},{"t":1113,"a":1.97,"e":0.18},{"t":1119,"a":2.58,"e":0.22},{"t":1119,"a":2.13,"e":0.13},
{"t":1125,"a":2.33,"e":0.31},{"t":1125,"a":2.35,"e":0.29},{"t":1131,"a":2.49,"e":0.15},{"t":1131,"a":2.05,"e":0.08},
{"t":1137,"a":2.40,"e":0.27},{"t":1137,"a":2.29,"e":0.21},{"t":1143,"a":2.29,"e":0.36},{"t":1143,"a":1.88,"e":0.02},
{"t":1149,"a":2.56,"e":0.19},{"t":1149,"a":2.19,"e":0.15},{"t":1155,"a":2.45,"e":0.25},{"t":1155,"a":2.45,"e":0.25},
{"t":1161,"a":2.36,"e":0.12},{"t":1161,"a":2.15,"e":0.10},{"t":1167,"a":2.60,"e":0.33},{"t":1167,"a":2.32,"e":0.19},
{"t":1173,"a":2.27,"e":0.21},{"t":1173,"a":2.04,"e":0.05},{"t":1179,"a":2.50,"e":0.29},{"t":1179,"a":2.21,"e":0.09},
{"t":1185,"a":2.43,"e":0.17},{"t":1185,"a":1.99,"e":0.20},{"t":1191,"a":2.34,"e":0.38},{"t":1191,"a":2.38,"e":0.04},
{"t":1197,"a":2.53,"e":0.24},{"t":1197,"a":2.10,"e":0.16},{"t":1203,"a":2.41,"e":0.14},{"t":1203,"a":2.27,"e":0.27},
{"t":1209,"a":2.28,"e":0.30},{"t":1209,"a":2.01,"e":0.11},{"t":1215,"a":2.55,"e":0.20},{"t":1215,"a":2.18,"e":0.23},
{"t":1221,"a":2.35,"e":0.35},{"t":1221,"a":2.42,"e":0.06},{"t":1227,"a":2.47,"e":0.26},{"t":1227,"a":2.07,"e":0.18},
{"t":1233,"a":2.62,"e":0.11},{"t":1233,"a":2.24,"e":0.13},{"t":1239,"a":2.31,"e":0.28},{"t":1239,"a":1.97,"e":0.29},
{"t":1245,"a":2.44,"e":0.18},{"t":1245,"a":2.13,"e":0.08},{"t":1251,"a":2.52,"e":0.34},{"t":1251,"a":2.35,"e":0.21},
{"t":1257,"a":2.26,"e":0.22},{"t":1257,"a":2.05,"e":0.02},{"t":1263,"a":2.38,"e":0.31},{"t":1263,"a":2.29,"e":0.15},
{"t":1269,"a":2.58,"e":0.15},{"t":1269,"a":1.88,"e":0.25},{"t":1275,"a":2.33,"e":0.27},{"t":1275,"a":2.19,"e":0.10},
{"t":1281,"a":2.49,"e":0.36},{"t":1281,"a":2.45,"e":0.19},{"t":1287,"a":2.40,"e":0.19},{"t":1287,"a":2.15,"e":0.05},
{"t":1293,"a":2.29,"e":0.25},{"t":1293,"a":2.32,"e":0.09},{"t":1299,"a":2.56,"e":0.12},{"t":1299,"a":2.04,"e":0.20},
{"t":1305,"a":2.45,"e":0.33},{"t":1305,"a":2.21,"e":0.04},{"t":1311,"a":2.36,"e":0.21},{"t":1311,"a":1.99,"e":0.16},
{"t":1317,"a":2.60,"e":0.29},{"t":1317,"a":2.38,"e":0.27},{"t":1323,"a":2.27,"e":0.17},{"t":1323,"a":2.10,"e":0.11},
{"t":1329,"a":2.50,"e":0.38},{"t":1329,"a":2.27,"e":0.23},{"t":1335,"a":2.43,"e":0.24},{"t":1335,"a":2.01,"e":0.06},
{"t":1341,"a":2.34,"e":0.14},{"t":1341,"a":2.18,"e":0.18},{"t":1347,"a":2.53,"e":0.30},{"t":1347,"a":2.42,"e":0.13},
{"t":1353,"a":2.41,"e":0.20},{"t":1353,"a":2.07,"e":0.29},{"t":1359,"a":2.28,"e":0.35},{"t":1359,"a":2.24,"e":0.08},
{"t":1365,"a":2.55,"e":0.26},{"t":1365,"a":1.97,"e":0.21},{"t":1371,"a":2.35,"e":0.11},{"t":1371,"a":2.13,"e":0.02},
{"t":1377,"a":2.47,"e":0.28},{"t":1377,"a":2.35,"e":0.15},{"t":1383,"a":2.62,"e":0.18},{"t":1383,"a":2.05,"e":0.25},
{"t":1389,"a":2.31,"e":0.34},{"t":1389,"a":2.29,"e":0.10},{"t":1395,"a":2.44,"e":0.22},{"t":1395,"a":1.88,"e":0.19},
{"t":1401,"a":2.52,"e":0.31},{"t":1401,"a":2.19,"e":0.05},{"t":1407,"a":2.26,"e":0.15},{"t":1407,"a":2.45,"e":0.09},
{"t":1413,"a":2.38,"e":0.27},{"t":1413,"a":2.15,"e":0.20},{"t":1419,"a":2.58,"e":0.36},{"t":1419,"a":2.32,"e":0.04},
{"t":1425,"a":2.33,"e":0.19},{"t":1425,"a":2.04,"e":0.16},{"t":1431,"a":2.49,"e":0.25},{"t":1431,"a":2.21,"e":0.27},
{"t":1437,"a":2.40,"e":0.12},{"t":1437,"a":1.99,"e":0.11},{"t":1443,"a":2.29,"e":0.33},{"t":1443,"a":2.38,"e":0.23},
{"t":1449,"a":2.56,"e":0.21},{"t":1449,"a":2.10,"e":0.06},{"t":1455,"a":2.45,"e":0.29},{"t":1455,"a":2.27,"e":0.18},
{"t":1461,"a":2.36,"e":0.17},{"t":1461,"a":2.01,"e":0.13},{"t":1467,"a":2.60,"e":0.38},{"t":1467,"a":2.18,"e":0.29},
{"t":1473,"a":2.27,"e":0.24},{"t":1473,"a":2.42,"e":0.08},{"t":1479,"a":2.50,"e":0.14},{"t":1479,"a":2.07,"e":0.21},
{"t":1485,"a":2.43,"e":0.30},{"t":1485,"a":2.24,"e":0.02},{"t":1491,"a":2.34,"e":0.20},{"t":1491,"a":1.97,"e":0.15},
{"t":1497,"a":2.53,"e":0.35},{"t":1497,"a":2.13,"e":0.25}
],
"rh":[
{"t":0,"a":1.78,"e":0.036},{"t":5,"a":1.76,"e":0.05},{"t":10,"a":1.775,"e":0.058},{"t":15,"a":1.755,"e":0.063},
{"t":20,"a":1.76,"e":0.07},{"t":25,"a":1.74,"e":0.068},{"t":30,"a":1.76,"e":0.078},{"t":35,"a":1.755,"e":0.082},
{"t":40,"a":1.80,"e":0.10},{"t":45,"a":1.82,"e":0.14},{"t":50,"a":1.87,"e":0.155},{"t":55,"a":1.86,"e":0.125},
{"t":60,"a":1.93,"e":0.15},{"t":65,"a":1.92,"e":0.14},{"t":70,"a":1.99,"e":0.175},{"t":75,"a":1.95,"e":0.16},
{"t":80,"a":2.04,"e":0.18},{"t":85,"a":2.00,"e":0.155},{"t":90,"a":2.07,"e":0.178},{"t":95,"a":2.02,"e":0.16},
{"t":100,"a":2.10,"e":0.20},{"t":105,"a":2.04,"e":0.17},{"t":110,"a":2.13,"e":0.20},{"t":115,"a":2.07,"e":0.175},
{"t":120,"a":2.16,"e":0.198},{"t":125,"a":2.09,"e":0.172},{"t":130,"a":2.18,"e":0.20},{"t":135,"a":2.11,"e":0.176},
{"t":140,"a":2.19,"e":0.198},{"t":145,"a":2.13,"e":0.17},{"t":150,"a":2.21,"e":0.20},{"t":155,"a":2.14,"e":0.175},
{"t":160,"a":2.23,"e":0.196},{"t":165,"a":2.16,"e":0.18},{"t":170,"a":2.25,"e":0.20},{"t":175,"a":2.18,"e":0.172},
{"t":180,"a":2.27,"e":0.205},{"t":185,"a":2.19,"e":0.176},{"t":190,"a":2.29,"e":0.208},{"t":195,"a":2.21,"e":0.178},
{"t":200,"a":2.31,"e":0.21},{"t":205,"a":2.22,"e":0.172},{"t":210,"a":2.32,"e":0.205},{"t":215,"a":2.21,"e":0.168},
{"t":220,"a":2.30,"e":0.212},{"t":225,"a":2.23,"e":0.175},{"t":230,"a":2.33,"e":0.208},{"t":235,"a":2.22,"e":0.17},
{"t":240,"a":2.31,"e":0.214},{"t":245,"a":2.20,"e":0.178},{"t":250,"a":2.32,"e":0.206},{"t":255,"a":2.22,"e":0.173},
{"t":260,"a":2.29,"e":0.21},{"t":265,"a":2.21,"e":0.168},{"t":270,"a":2.33,"e":0.213},{"t":275,"a":2.23,"e":0.176},
{"t":280,"a":2.32,"e":0.209},{"t":285,"a":2.22,"e":0.171},{"t":290,"a":2.31,"e":0.215},{"t":295,"a":2.23,"e":0.18},
{"t":300,"a":2.34,"e":0.21},{"t":305,"a":2.22,"e":0.176},{"t":310,"a":2.31,"e":0.212},{"t":315,"a":2.21,"e":0.172},
{"t":320,"a":2.30,"e":0.206},{"t":325,"a":2.20,"e":0.168},{"t":330,"a":2.32,"e":0.21},{"t":335,"a":2.23,"e":0.174},
{"t":340,"a":2.31,"e":0.204},{"t":345,"a":2.21,"e":0.166},{"t":350,"a":2.33,"e":0.208},{"t":355,"a":2.22,"e":0.172},
{"t":360,"a":2.30,"e":0.212},{"t":365,"a":2.20,"e":0.175},{"t":370,"a":2.32,"e":0.209},{"t":375,"a":2.22,"e":0.17},
{"t":380,"a":2.31,"e":0.205},{"t":385,"a":2.21,"e":0.168},{"t":390,"a":2.30,"e":0.207},{"t":395,"a":2.22,"e":0.172},
{"t":400,"a":2.33,"e":0.211},{"t":405,"a":2.23,"e":0.176},{"t":410,"a":2.32,"e":0.213},{"t":415,"a":2.21,"e":0.17},
{"t":420,"a":2.30,"e":0.206},{"t":425,"a":2.21,"e":0.167},{"t":430,"a":2.31,"e":0.21},{"t":435,"a":2.22,"e":0.174},
{"t":440,"a":2.30,"e":0.208},{"t":445,"a":2.20,"e":0.169},{"t":450,"a":2.31,"e":0.212},{"t":455,"a":2.21,"e":0.173},
{"t":460,"a":2.30,"e":0.205},{"t":465,"a":2.20,"e":0.165},{"t":470,"a":2.32,"e":0.209},{"t":475,"a":2.21,"e":0.172},
{"t":480,"a":2.29,"e":0.206},{"t":485,"a":2.20,"e":0.168},{"t":490,"a":2.31,"e":0.212},{"t":495,"a":2.22,"e":0.175},
{"t":500,"a":2.30,"e":0.208},{"t":505,"a":2.20,"e":0.17},{"t":510,"a":2.32,"e":0.21},{"t":515,"a":2.21,"e":0.166},
{"t":520,"a":2.30,"e":0.205},{"t":525,"a":2.20,"e":0.163},{"t":530,"a":2.29,"e":0.207},{"t":535,"a":2.19,"e":0.168},
{"t":540,"a":2.31,"e":0.211},{"t":545,"a":2.21,"e":0.172},{"t":550,"a":2.30,"e":0.206},{"t":555,"a":2.20,"e":0.17},
{"t":560,"a":2.29,"e":0.209},{"t":565,"a":2.19,"e":0.166},{"t":570,"a":2.31,"e":0.212},{"t":575,"a":2.21,"e":0.175},
{"t":580,"a":2.30,"e":0.208},{"t":585,"a":2.20,"e":0.17},{"t":590,"a":2.29,"e":0.214},{"t":595,"a":2.19,"e":0.172},
{"t":600,"a":2.30,"e":0.21},{"t":605,"a":2.20,"e":0.168},{"t":610,"a":2.31,"e":0.212},{"t":615,"a":2.21,"e":0.174},
{"t":620,"a":2.30,"e":0.216},{"t":625,"a":2.19,"e":0.17},{"t":630,"a":2.31,"e":0.21},{"t":635,"a":2.20,"e":0.167},
{"t":640,"a":2.29,"e":0.208},{"t":645,"a":2.18,"e":0.172},{"t":650,"a":2.30,"e":0.212},{"t":655,"a":2.20,"e":0.175},
{"t":660,"a":2.31,"e":0.206},{"t":665,"a":2.19,"e":0.168},{"t":670,"a":2.30,"e":0.21},{"t":675,"a":2.20,"e":0.172},
{"t":680,"a":2.29,"e":0.205},{"t":685,"a":2.19,"e":0.165},{"t":690,"a":2.31,"e":0.208},{"t":695,"a":2.20,"e":0.17},
{"t":700,"a":2.30,"e":0.206},{"t":705,"a":2.20,"e":0.168},{"t":710,"a":2.29,"e":0.203},{"t":715,"a":2.19,"e":0.165},
{"t":720,"a":2.31,"e":0.207},{"t":725,"a":2.21,"e":0.17},{"t":730,"a":2.30,"e":0.21},{"t":735,"a":2.20,"e":0.172},
{"t":740,"a":2.31,"e":0.212},{"t":745,"a":2.20,"e":0.175},{"t":750,"a":2.30,"e":0.208},{"t":755,"a":2.19,"e":0.17},
{"t":760,"a":2.29,"e":0.205},{"t":765,"a":2.19,"e":0.167},{"t":770,"a":2.30,"e":0.208},{"t":775,"a":2.20,"e":0.172},
{"t":780,"a":2.31,"e":0.21},{"t":785,"a":2.20,"e":0.168},{"t":790,"a":2.30,"e":0.204},{"t":795,"a":2.19,"e":0.165},
{"t":800,"a":2.29,"e":0.206},{"t":805,"a":2.19,"e":0.168},{"t":810,"a":2.30,"e":0.203},{"t":815,"a":2.20,"e":0.163},
{"t":820,"a":2.29,"e":0.205},{"t":825,"a":2.19,"e":0.167},{"t":830,"a":2.30,"e":0.208},{"t":835,"a":2.20,"e":0.17},
{"t":840,"a":2.29,"e":0.204},{"t":845,"a":2.18,"e":0.166},{"t":850,"a":2.28,"e":0.207},{"t":855,"a":2.17,"e":0.168},
{"t":860,"a":2.27,"e":0.205},{"t":865,"a":2.16,"e":0.165},{"t":870,"a":2.26,"e":0.20},{"t":875,"a":2.14,"e":0.164},
{"t":880,"a":2.24,"e":0.203},{"t":885,"a":2.12,"e":0.168},{"t":890,"a":2.22,"e":0.206},{"t":895,"a":2.10,"e":0.17},
{"t":900,"a":2.21,"e":0.204},{"t":905,"a":2.09,"e":0.166},{"t":910,"a":2.23,"e":0.20},{"t":915,"a":2.12,"e":0.163},
{"t":920,"a":2.26,"e":0.203},{"t":925,"a":2.15,"e":0.166},{"t":930,"a":2.28,"e":0.206},{"t":935,"a":2.17,"e":0.168},
{"t":940,"a":2.29,"e":0.20},{"t":945,"a":2.18,"e":0.164},{"t":950,"a":2.30,"e":0.203},{"t":955,"a":2.19,"e":0.166},
{"t":960,"a":2.31,"e":0.206},{"t":965,"a":2.20,"e":0.17},{"t":970,"a":2.32,"e":0.20},{"t":975,"a":2.19,"e":0.165},
{"t":980,"a":2.31,"e":0.198},{"t":985,"a":2.18,"e":0.163},{"t":990,"a":2.32,"e":0.20},{"t":995,"a":2.19,"e":0.166},
{"t":1000,"a":2.32,"e":0.198},{"t":1005,"a":2.18,"e":0.162},{"t":1010,"a":2.30,"e":0.197},{"t":1015,"a":2.17,"e":0.16},
{"t":1020,"a":2.29,"e":0.199},{"t":1025,"a":2.16,"e":0.163},{"t":1030,"a":2.28,"e":0.196},{"t":1035,"a":2.15,"e":0.16},
{"t":1040,"a":2.28,"e":0.198},{"t":1045,"a":2.14,"e":0.162},{"t":1050,"a":2.27,"e":0.20},{"t":1055,"a":2.14,"e":0.165},
{"t":1060,"a":2.27,"e":0.21},{"t":1065,"a":2.13,"e":0.168},{"t":1070,"a":2.26,"e":0.22},{"t":1075,"a":2.13,"e":0.17},
{"t":1080,"a":2.27,"e":0.205},{"t":1085,"a":2.12,"e":0.165},{"t":1090,"a":2.26,"e":0.198},{"t":1095,"a":2.12,"e":0.162},
{"t":1100,"a":2.27,"e":0.20},{"t":1105,"a":2.13,"e":0.16},{"t":1110,"a":2.28,"e":0.198},{"t":1115,"a":2.14,"e":0.158},
{"t":1120,"a":2.29,"e":0.197},{"t":1125,"a":2.15,"e":0.16},{"t":1130,"a":2.30,"e":0.20},{"t":1135,"a":2.16,"e":0.162},
{"t":1140,"a":2.30,"e":0.198},{"t":1145,"a":2.16,"e":0.16},{"t":1150,"a":2.29,"e":0.20},{"t":1155,"a":2.15,"e":0.163},
{"t":1160,"a":2.30,"e":0.198},{"t":1165,"a":2.16,"e":0.16},{"t":1170,"a":2.31,"e":0.197},{"t":1175,"a":2.17,"e":0.158},
{"t":1180,"a":2.31,"e":0.196},{"t":1185,"a":2.16,"e":0.157},{"t":1190,"a":2.30,"e":0.20},{"t":1195,"a":2.15,"e":0.16},
{"t":1200,"a":2.29,"e":0.198},{"t":1205,"a":2.14,"e":0.158},{"t":1210,"a":2.28,"e":0.197},{"t":1215,"a":2.13,"e":0.155},
{"t":1220,"a":2.27,"e":0.195},{"t":1225,"a":2.12,"e":0.152},{"t":1230,"a":2.26,"e":0.197},{"t":1235,"a":2.11,"e":0.156},
{"t":1240,"a":2.25,"e":0.20},{"t":1245,"a":2.10,"e":0.16},{"t":1250,"a":2.24,"e":0.198},{"t":1255,"a":2.09,"e":0.157},
{"t":1260,"a":2.23,"e":0.20},{"t":1265,"a":2.08,"e":0.158},{"t":1270,"a":2.22,"e":0.197},{"t":1275,"a":2.07,"e":0.156},
{"t":1280,"a":2.23,"e":0.198},{"t":1285,"a":2.08,"e":0.158},{"t":1290,"a":2.22,"e":0.20},{"t":1295,"a":2.07,"e":0.16},
{"t":1300,"a":2.23,"e":0.198},{"t":1305,"a":2.09,"e":0.157},{"t":1310,"a":2.24,"e":0.20},{"t":1315,"a":2.10,"e":0.158},
{"t":1320,"a":2.25,"e":0.198},{"t":1325,"a":2.12,"e":0.16},{"t":1330,"a":2.27,"e":0.20},{"t":1335,"a":2.14,"e":0.158},
{"t":1340,"a":2.28,"e":0.198},{"t":1345,"a":2.15,"e":0.16},{"t":1350,"a":2.29,"e":0.203},{"t":1355,"a":2.16,"e":0.162},
{"t":1360,"a":2.30,"e":0.20},{"t":1365,"a":2.17,"e":0.158},{"t":1370,"a":2.31,"e":0.198},{"t":1375,"a":2.18,"e":0.16},
{"t":1380,"a":2.32,"e":0.20},{"t":1385,"a":2.18,"e":0.162},{"t":1390,"a":2.32,"e":0.203},{"t":1395,"a":2.19,"e":0.16},
{"t":1400,"a":2.33,"e":0.20},{"t":1405,"a":2.19,"e":0.158},{"t":1410,"a":2.32,"e":0.198},{"t":1415,"a":2.18,"e":0.155},
{"t":1420,"a":2.32,"e":0.196},{"t":1425,"a":2.18,"e":0.152},{"t":1430,"a":2.31,"e":0.198},{"t":1435,"a":2.17,"e":0.155},
{"t":1440,"a":2.30,"e":0.20},{"t":1445,"a":2.15,"e":0.156},{"t":1450,"a":2.28,"e":0.198},{"t":1455,"a":2.13,"e":0.158},
{"t":1460,"a":2.26,"e":0.20},{"t":1465,"a":2.11,"e":0.155},{"t":1470,"a":2.24,"e":0.203},{"t":1475,"a":2.09,"e":0.16},
{"t":1480,"a":2.23,"e":0.20},{"t":1485,"a":2.09,"e":0.158},{"t":1490,"a":2.24,"e":0.198},{"t":1495,"a":2.10,"e":0.16},
{"t":1500,"a":2.25,"e":0.20}
],
"pl":[
{"t":0,"a":1.78,"e":0.005},{"t":5,"a":1.79,"e":0.02},{"t":10,"a":1.80,"e":0.0},{"t":15,"a":1.82,"e":0.025},
{"t":20,"a":1.84,"e":0.01},{"t":25,"a":1.85,"e":0.03},{"t":30,"a":1.88,"e":0.0},{"t":35,"a":1.90,"e":0.02},
{"t":40,"a":1.93,"e":0.0},{"t":45,"a":1.96,"e":0.01},{"t":50,"a":1.99,"e":0.0},{"t":55,"a":2.00,"e":0.06},
{"t":60,"a":2.06,"e":0.05},{"t":65,"a":2.03,"e":0.10},{"t":70,"a":2.12,"e":0.07},{"t":75,"a":2.07,"e":0.12},
{"t":80,"a":2.18,"e":0.17},{"t":85,"a":2.10,"e":0.06},{"t":90,"a":2.23,"e":0.14},{"t":95,"a":2.14,"e":0.15},
{"t":100,"a":2.30,"e":0.19},{"t":105,"a":2.12,"e":0.13},{"t":110,"a":2.33,"e":0.20},{"t":115,"a":2.15,"e":0.14},
{"t":120,"a":2.36,"e":0.18},{"t":125,"a":2.18,"e":0.13},{"t":130,"a":2.38,"e":0.20},{"t":135,"a":2.20,"e":0.11},
{"t":140,"a":2.31,"e":0.18},{"t":145,"a":2.10,"e":0.067},{"t":150,"a":2.40,"e":0.19},{"t":155,"a":2.16,"e":0.13},
{"t":160,"a":2.34,"e":0.21},{"t":165,"a":2.08,"e":0.10},{"t":170,"a":2.41,"e":0.20},{"t":175,"a":2.18,"e":0.14},
{"t":180,"a":2.37,"e":0.22},{"t":185,"a":2.14,"e":0.12},{"t":190,"a":2.39,"e":0.18},{"t":195,"a":2.22,"e":0.15},
{"t":200,"a":2.36,"e":0.20},{"t":205,"a":2.24,"e":0.15},{"t":210,"a":2.35,"e":0.228},{"t":215,"a":2.22,"e":0.17},
{"t":220,"a":2.34,"e":0.21},{"t":225,"a":2.25,"e":0.17},{"t":230,"a":2.32,"e":0.20},{"t":235,"a":2.26,"e":0.16},
{"t":240,"a":2.33,"e":0.19},{"t":245,"a":2.27,"e":0.15},{"t":250,"a":2.35,"e":0.20},{"t":255,"a":2.24,"e":0.16},
{"t":260,"a":2.33,"e":0.19},{"t":265,"a":2.26,"e":0.13},{"t":270,"a":2.34,"e":0.20},{"t":275,"a":2.28,"e":0.14},
{"t":280,"a":2.32,"e":0.18},{"t":285,"a":2.25,"e":0.12},{"t":290,"a":2.33,"e":0.20},{"t":295,"a":2.23,"e":0.15},
{"t":300,"a":2.34,"e":0.19},{"t":305,"a":2.26,"e":0.14},{"t":310,"a":2.32,"e":0.18},{"t":315,"a":2.24,"e":0.12},
{"t":320,"a":2.31,"e":0.17},{"t":325,"a":2.20,"e":0.13},{"t":330,"a":2.33,"e":0.19},{"t":335,"a":2.23,"e":0.11},
{"t":340,"a":2.30,"e":0.18},{"t":345,"a":2.17,"e":0.098},{"t":350,"a":2.32,"e":0.19},{"t":355,"a":2.25,"e":0.13},
{"t":360,"a":2.35,"e":0.20},{"t":365,"a":2.27,"e":0.14},{"t":370,"a":2.37,"e":0.19},{"t":375,"a":2.28,"e":0.12},
{"t":380,"a":2.38,"e":0.16},{"t":385,"a":2.30,"e":0.075},{"t":390,"a":2.40,"e":0.18},{"t":395,"a":2.31,"e":0.075},
{"t":400,"a":2.44,"e":0.20},{"t":405,"a":2.32,"e":0.16},{"t":410,"a":2.40,"e":0.19},{"t":415,"a":2.29,"e":0.14},
{"t":420,"a":2.36,"e":0.18},{"t":425,"a":2.27,"e":0.13},{"t":430,"a":2.33,"e":0.17},{"t":435,"a":2.26,"e":0.14},
{"t":440,"a":2.34,"e":0.19},{"t":445,"a":2.27,"e":0.13},{"t":450,"a":2.33,"e":0.17},{"t":455,"a":2.25,"e":0.14},
{"t":460,"a":2.32,"e":0.18},{"t":465,"a":2.26,"e":0.13},{"t":470,"a":2.34,"e":0.17},{"t":475,"a":2.27,"e":0.12},
{"t":480,"a":2.33,"e":0.16},{"t":485,"a":2.24,"e":0.13},{"t":490,"a":2.32,"e":0.17},{"t":495,"a":2.22,"e":0.12},
{"t":500,"a":2.31,"e":0.18},{"t":505,"a":2.21,"e":0.14},{"t":510,"a":2.30,"e":0.20},{"t":515,"a":2.19,"e":0.15},
{"t":520,"a":2.31,"e":0.22},{"t":525,"a":2.24,"e":0.17},{"t":530,"a":2.35,"e":0.21},{"t":535,"a":2.26,"e":0.15},
{"t":540,"a":2.34,"e":0.20},{"t":545,"a":2.25,"e":0.14},{"t":550,"a":2.33,"e":0.19},{"t":555,"a":2.26,"e":0.13},
{"t":560,"a":2.32,"e":0.21},{"t":565,"a":2.25,"e":0.16},{"t":570,"a":2.31,"e":0.20},{"t":575,"a":2.24,"e":0.14},
{"t":580,"a":2.33,"e":0.19},{"t":585,"a":2.25,"e":0.15},{"t":590,"a":2.32,"e":0.20},{"t":595,"a":2.24,"e":0.16},
{"t":600,"a":2.31,"e":0.19},{"t":605,"a":2.23,"e":0.14},{"t":610,"a":2.30,"e":0.18},{"t":615,"a":2.24,"e":0.13},
{"t":620,"a":2.32,"e":0.17},{"t":625,"a":2.25,"e":0.12},{"t":630,"a":2.31,"e":0.16},{"t":635,"a":2.23,"e":0.11},
{"t":640,"a":2.30,"e":0.15},{"t":645,"a":2.22,"e":0.12},{"t":650,"a":2.31,"e":0.17},{"t":655,"a":2.24,"e":0.13},
{"t":660,"a":2.32,"e":0.16},{"t":665,"a":2.25,"e":0.11},{"t":670,"a":2.30,"e":0.15},{"t":675,"a":2.22,"e":0.10},
{"t":680,"a":2.29,"e":0.14},{"t":685,"a":2.21,"e":0.11},{"t":690,"a":2.30,"e":0.16},{"t":695,"a":2.23,"e":0.12},
{"t":700,"a":2.31,"e":0.15},{"t":705,"a":2.24,"e":0.10},{"t":710,"a":2.33,"e":0.13},{"t":715,"a":2.25,"e":0.079},
{"t":720,"a":2.34,"e":0.14},{"t":725,"a":2.26,"e":0.08},{"t":730,"a":2.35,"e":0.16},{"t":735,"a":2.28,"e":0.12},
{"t":740,"a":2.33,"e":0.19},{"t":745,"a":2.24,"e":0.15},{"t":750,"a":2.37,"e":0.21},{"t":755,"a":2.28,"e":0.17},
{"t":760,"a":2.41,"e":0.23},{"t":765,"a":2.31,"e":0.18},{"t":770,"a":2.45,"e":0.22},{"t":775,"a":2.34,"e":0.15},
{"t":780,"a":2.44,"e":0.23},{"t":785,"a":2.33,"e":0.16},{"t":790,"a":2.42,"e":0.20},{"t":795,"a":2.30,"e":0.16},
{"t":800,"a":2.36,"e":0.19},{"t":805,"a":2.26,"e":0.17},{"t":810,"a":2.33,"e":0.20},{"t":815,"a":2.24,"e":0.16},
{"t":820,"a":2.30,"e":0.19},{"t":825,"a":2.21,"e":0.14},{"t":830,"a":2.28,"e":0.18},{"t":835,"a":2.18,"e":0.12},
{"t":840,"a":2.25,"e":0.16},{"t":845,"a":2.15,"e":0.105},{"t":850,"a":2.24,"e":0.15},{"t":855,"a":2.16,"e":0.11},
{"t":860,"a":2.30,"e":0.20},{"t":865,"a":2.22,"e":0.16},{"t":870,"a":2.36,"e":0.23},{"t":875,"a":2.27,"e":0.17},
{"t":880,"a":2.39,"e":0.22},{"t":885,"a":2.29,"e":0.16},{"t":890,"a":2.35,"e":0.21},{"t":895,"a":2.27,"e":0.15},
{"t":900,"a":2.34,"e":0.20},{"t":905,"a":2.26,"e":0.15},{"t":910,"a":2.32,"e":0.19},{"t":915,"a":2.25,"e":0.14},
{"t":920,"a":2.33,"e":0.20},{"t":925,"a":2.24,"e":0.15},{"t":930,"a":2.32,"e":0.18},{"t":935,"a":2.25,"e":0.13},
{"t":940,"a":2.31,"e":0.19},{"t":945,"a":2.24,"e":0.14},{"t":950,"a":2.31,"e":0.20},{"t":955,"a":2.25,"e":0.13},
{"t":960,"a":2.30,"e":0.18},{"t":965,"a":2.24,"e":0.12},{"t":970,"a":2.30,"e":0.17},{"t":975,"a":2.23,"e":0.12},
{"t":980,"a":2.29,"e":0.16},{"t":985,"a":2.24,"e":0.12},{"t":990,"a":2.29,"e":0.15},{"t":995,"a":2.23,"e":0.13},
{"t":1000,"a":2.26,"e":0.11}
]
},
"vconcat":[
{
 "width":510,"height":438,
 "encoding":{
  "x":{"field":"t","type":"quantitative","scale":{"domain":[0,1500],"nice":false,"zero":false},"axis":{"labels":false,"title":null,"values":[0,200,400,600,800,1000,1200,1400]}},
  "y":{"field":"a","type":"quantitative","scale":{"domain":[1.035,2.845],"nice":false,"zero":false},"axis":{"title":"a_cav [a_bin]","values":[1.25,1.5,1.75,2,2.25,2.5,2.75],"format":".2f"}}
 },
 "layer":[
  {"data":{"name":"sc"},"mark":{"type":"point","filled":true,"size":150,"opacity":0.6,"clip":true},
   "encoding":{"color":{"datum":"rh2d scatter","type":"nominal",
     "scale":{"domain":["rh2d scatter","rh2d averaged","pluto averaged"],"range":["#a9a9a9","#1f77b4","#ff7f0e"]},
     "legend":{"orient":"none","legendX":156.5,"legendY":345,"title":null,"labelFontSize":16.7,"labelFont":"DejaVu Sans","labelColor":"black",
       "symbolType":"circle","symbolSize":100,"symbolOffset":13,"symbolStrokeWidth":2.5,"labelOffset":26,"rowPadding":8,"padding":6.5,
       "strokeColor":"#cccccc","fillColor":"rgba(255,255,255,0.8)","cornerRadius":3,
       "encode":{"symbols":{"update":{
         "shape":{"signal":"datum.value === 'rh2d scatter' ? 'circle' : 'M-3.7,0L3.7,0'"},
         "size":{"value":100},
         "fill":{"signal":"datum.value === 'rh2d scatter' ? '#a9a9a9' : 'transparent'"},
         "stroke":{"signal":"datum.value === 'rh2d scatter' ? 'transparent' : (datum.value === 'rh2d averaged' ? '#1f77b4' : '#ff7f0e')"},
         "strokeWidth":{"value":2.5},"opacity":{"value":1},"fillOpacity":{"value":1},"strokeOpacity":{"value":1}}}}}}}},
  {"data":{"name":"rh"},"mark":{"type":"line","strokeWidth":2.5,"clip":true},"encoding":{"color":{"datum":"rh2d averaged","type":"nominal",
     "legend":{"orient":"none","legendX":156.5,"legendY":345,"title":null,"labelFontSize":16.7,"labelFont":"DejaVu Sans","labelColor":"black",
       "symbolType":"circle","symbolSize":100,"symbolOffset":13,"symbolStrokeWidth":2.5,"labelOffset":26,"rowPadding":8,"padding":6.5,
       "strokeColor":"#cccccc","fillColor":"rgba(255,255,255,0.8)","cornerRadius":3,
       "encode":{"symbols":{"update":{
         "shape":{"signal":"datum.value === 'rh2d scatter' ? 'circle' : 'M-3.7,0L3.7,0'"},
         "size":{"value":100},
         "fill":{"signal":"datum.value === 'rh2d scatter' ? '#a9a9a9' : 'transparent'"},
         "stroke":{"signal":"datum.value === 'rh2d scatter' ? 'transparent' : (datum.value === 'rh2d averaged' ? '#1f77b4' : '#ff7f0e')"},
         "strokeWidth":{"value":2.5},"opacity":{"value":1},"fillOpacity":{"value":1},"strokeOpacity":{"value":1}}}}}}}},
  {"data":{"name":"pl"},"mark":{"type":"line","strokeWidth":2.5,"clip":true},"encoding":{"color":{"datum":"pluto averaged","type":"nominal",
     "legend":{"orient":"none","legendX":156.5,"legendY":345,"title":null,"labelFontSize":16.7,"labelFont":"DejaVu Sans","labelColor":"black",
       "symbolType":"circle","symbolSize":100,"symbolOffset":13,"symbolStrokeWidth":2.5,"labelOffset":26,"rowPadding":8,"padding":6.5,
       "strokeColor":"#cccccc","fillColor":"rgba(255,255,255,0.8)","cornerRadius":3,
       "encode":{"symbols":{"update":{
         "shape":{"signal":"datum.value === 'rh2d scatter' ? 'circle' : 'M-3.7,0L3.7,0'"},
         "size":{"value":100},
         "fill":{"signal":"datum.value === 'rh2d scatter' ? '#a9a9a9' : 'transparent'"},
         "stroke":{"signal":"datum.value === 'rh2d scatter' ? 'transparent' : (datum.value === 'rh2d averaged' ? '#1f77b4' : '#ff7f0e')"},
         "strokeWidth":{"value":2.5},"opacity":{"value":1},"fillOpacity":{"value":1},"strokeOpacity":{"value":1}}}}}}}}
 ]
},
{
 "width":510,"height":438,
 "encoding":{
  "x":{"field":"t","type":"quantitative","scale":{"domain":[0,1500],"nice":false,"zero":false},"axis":{"title":"time [T_bin]","values":[0,200,400,600,800,1000,1200,1400],"format":"d"}},
  "y":{"field":"e","type":"quantitative","scale":{"domain":[0,0.5],"nice":false,"zero":false},"axis":{"title":"e_cav","values":[0,0.1,0.2,0.3,0.4,0.5],"format":".1f"}}
 },
 "layer":[
  {"data":{"name":"sc"},"mark":{"type":"point","filled":true,"size":150,"opacity":0.6,"color":"#a9a9a9","clip":true},"encoding":{}},
  {"data":{"name":"rh"},"mark":{"type":"line","strokeWidth":2.5,"color":"#1f77b4","clip":true},"encoding":{}},
  {"data":{"name":"pl"},"mark":{"type":"line","strokeWidth":2.5,"color":"#ff7f0e","clip":true},"encoding":{}}
 ]
}
]
}
